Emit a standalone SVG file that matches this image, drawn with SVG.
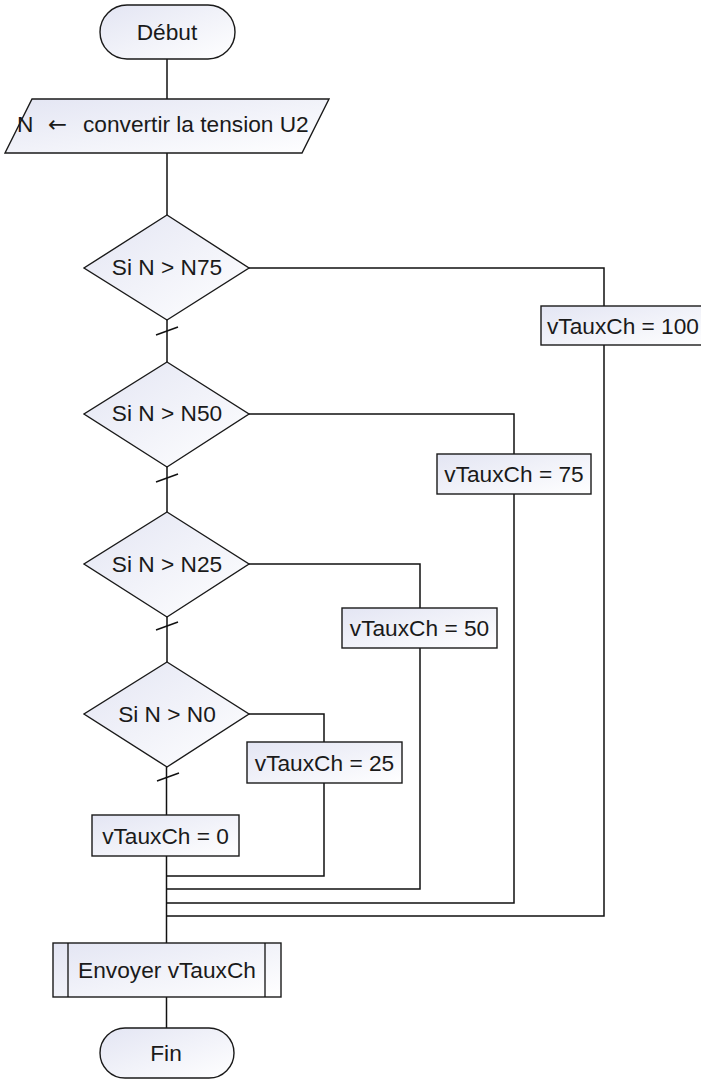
<svg xmlns="http://www.w3.org/2000/svg" width="701" height="1079" viewBox="0 0 701 1079">
<defs>
<linearGradient id="g" x1="0" y1="0" x2="1" y2="1">
<stop offset="0" stop-color="#e3e5f3"/>
<stop offset="1" stop-color="#ffffff"/>
</linearGradient>
</defs>
<style>
.s{fill:url(#g);stroke:#1a1a1a;stroke-width:1.4}
.c{fill:none;stroke:#111;stroke-width:1.5}
text{font-family:"Liberation Sans",Arial,sans-serif;font-size:22.7px;fill:#1a1a1a}
.m{text-anchor:middle}
.a{font-family:"DejaVu Sans",sans-serif}
</style>
<rect width="701" height="1079" fill="#ffffff"/>
<g id="connectors" class="c">
<path d="M167 59V99"/>
<path d="M167 153V215"/>
<path d="M167 320V362"/>
<path d="M156 335L178 327"/>
<path d="M167 467V512"/>
<path d="M156 482L178 474"/>
<path d="M167 617V662"/>
<path d="M156 630L178 622"/>
<path d="M166.5 767V815"/>
<path d="M157 781L179 773"/>
<path d="M166.5 856V943"/>
<path d="M166.5 997V1028"/>
<path d="M249 268H604V306"/>
<path d="M604 345V916H166.5"/>
<path d="M249 414H514V454"/>
<path d="M514 494V903H166.5"/>
<path d="M249 564H420V608"/>
<path d="M420 648V889H166.5"/>
<path d="M249 714H324V742"/>
<path d="M324 783V876H166.5"/>
</g>
<g id="debut">
<rect class="s" x="100" y="5" width="135" height="54" rx="27"/>
<text class="m" x="167" y="40">Début</text>
</g>
<g id="input">
<path class="s" d="M32 99H329L302 153H5Z"/>
<text y="132"><tspan x="17">N</tspan><tspan class="a" x="48">←</tspan><tspan x="83">convertir la tension U2</tspan></text>
</g>
<g id="d75">
<path class="s" d="M167 215L249 268L167 320L84 268Z"/>
<text class="m" x="167" y="275">Si N &gt; N75</text>
</g>
<g id="d50">
<path class="s" d="M167 362L249 414L167 467L84 414Z"/>
<text class="m" x="167" y="421">Si N &gt; N50</text>
</g>
<g id="d25">
<path class="s" d="M167 512L249 564L167 617L84 564Z"/>
<text class="m" x="167" y="571.5">Si N &gt; N25</text>
</g>
<g id="d0">
<path class="s" d="M167 662L249 714L167 767L84 714Z"/>
<text class="m" x="167" y="721.5">Si N &gt; N0</text>
</g>
<g id="b100">
<rect class="s" x="541" y="306" width="172" height="39"/>
<text x="547" y="333.5">vTauxCh = 100</text>
</g>
<g id="b75">
<rect class="s" x="437" y="454" width="154" height="40"/>
<text class="m" x="514" y="482">vTauxCh = 75</text>
</g>
<g id="b50">
<rect class="s" x="342" y="608" width="155" height="40"/>
<text class="m" x="419.5" y="636">vTauxCh = 50</text>
</g>
<g id="b25">
<rect class="s" x="247" y="742" width="155" height="41"/>
<text class="m" x="324.5" y="770.5">vTauxCh = 25</text>
</g>
<g id="b0">
<rect class="s" x="92" y="815" width="147" height="41"/>
<text class="m" x="165.5" y="843.5">vTauxCh = 0</text>
</g>
<g id="envoyer">
<rect class="s" x="53" y="943" width="228" height="54"/>
<path class="c" d="M68 943V997M265 943V997" style="stroke-width:1.3"/>
<text class="m" x="167" y="978">Envoyer vTauxCh</text>
</g>
<g id="fin">
<rect class="s" x="100" y="1028" width="134" height="50" rx="25"/>
<text class="m" x="166" y="1061">Fin</text>
</g>
</svg>
